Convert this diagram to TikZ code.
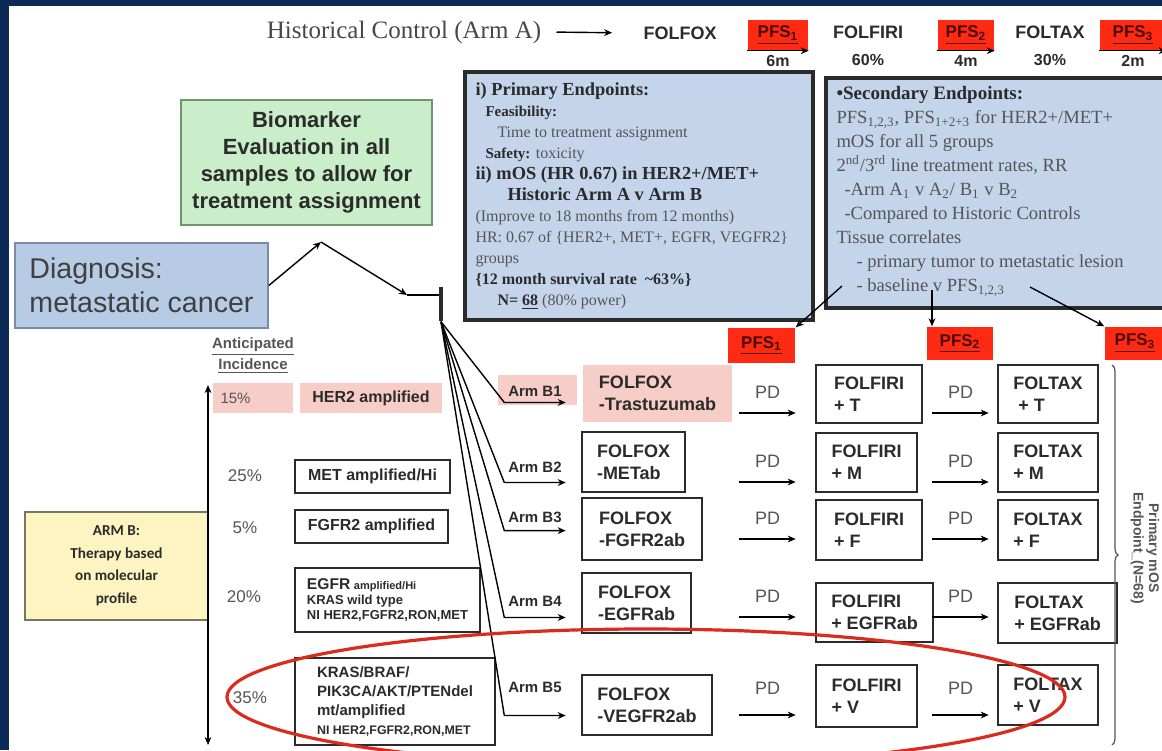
\documentclass[tikz,border=0pt]{standalone}
\usepackage{fontspec}
\setmainfont{Liberation Serif}
\setsansfont{Liberation Sans}
\newfontfamily\calibrifont{Carlito}
\usepackage{xcolor}
\usepackage{tikz}
\usetikzlibrary{positioning,arrows.meta,decorations.pathreplacing}

\newcommand{\setfs}[2]{\fontsize{#1}{#2}\selectfont}

\definecolor{navy}{HTML}{0C2A57}
\definecolor{pfsred}{HTML}{FF2A12}
\definecolor{pfstext}{HTML}{4A0A05}
\definecolor{pinkfill}{HTML}{F7CDC8}
\definecolor{endfill}{HTML}{C4D5EB}
\definecolor{diagfill}{HTML}{B8CBE4}
\definecolor{diagline}{HTML}{7A8BA3}
\definecolor{greenfill}{HTML}{C9EEC9}
\definecolor{greenline}{HTML}{6E976E}
\definecolor{yellowfill}{HTML}{FDF4C2}
\definecolor{yellowline}{HTML}{77765E}
\definecolor{ringred}{HTML}{DB2A1E}
\definecolor{ink}{HTML}{2B2B2B}
\definecolor{grayink}{HTML}{555555}

\begin{document}
\begin{tikzpicture}[
    x=0.5pt, y=-0.5pt,
    line width=0.7pt,
    >={Stealth[length=4pt,width=3.4pt]},
    cell/.style={draw=ink, line width=0.8pt, align=left, inner sep=2pt, text=ink, font=\sffamily\bfseries\setfs{9}{11}},
    marker/.style={draw=ink, line width=0.8pt, align=left, inner sep=2pt, text=ink, font=\sffamily\bfseries\setfs{8}{9.5}},
    pct/.style={font=\sffamily\setfs{8.5}{10}, text=grayink},
    pfs/.style={fill=pfsred, inner sep=0pt, text=pfstext, font=\sffamily\bfseries\setfs{8.5}{10}},
    toplbl/.style={font=\sffamily\bfseries\setfs{9}{10}, text=ink},
    sublbl/.style={font=\sffamily\bfseries\setfs{8}{9}, text=ink, inner sep=1pt},
    arm/.style={font=\sffamily\bfseries\setfs{7.5}{8}, text=ink, inner sep=1pt, minimum width=30pt},
    pd/.style={font=\sffamily\setfs{9}{10}, text=grayink, minimum width=27.5pt, inner sep=1pt, text height=6.5pt, text depth=6pt, anchor=south},
    endbox/.style={draw=ink, line width=2.2pt, fill=endfill, inner sep=0pt},
    endtext/.style={align=left, anchor=north west, inner sep=0pt, text=ink}
]

% slide frame
\clip (0,0) rectangle (1162,750);
\fill[navy] (0,0) rectangle (1162,750);
\fill[white] (9,6) rectangle (1162,750);

% historical control line
\node[font=\rmfamily\setfs{12.5}{14}, text=black!72] (hist) at (404,32) {Historical Control (Arm A)};
\node[toplbl] (hfox) at (680,33) {FOLFOX};
\node[pfs, minimum width=30pt, minimum height=15pt] (pfsa1) at (778,35) {\underline{PFS\textsubscript{1}}};
\node[toplbl] (hfiri) at (868,32) {FOLFIRI};
\node[pfs, minimum width=28pt, minimum height=15pt] (pfsa2) at (966,35) {\underline{PFS\textsubscript{2}}};
\node[toplbl] (htax) at (1050,32) {FOLTAX};
\node[pfs, minimum width=33pt, minimum height=15pt] (pfsa3) at (1133,35) {\underline{PFS\textsubscript{3}}};

\node[sublbl, below=1pt of pfsa1] (m6) {6m};
\node[sublbl, below=3pt of hfiri] (r60) {60\%};
\node[sublbl, below=1pt of pfsa2] (m4) {4m};
\node[sublbl, below=3pt of htax] (r30) {30\%};
\node[sublbl, below=1pt of pfsa3] (m2) {2m};

\draw[->, shorten <=4pt, shorten >=12pt] (hist.east) -- (hfox.west);
\draw[->, line width=0.4pt] (pfsa1.south west) -- (pfsa1.south east);
\draw[->, line width=0.4pt] (pfsa2.south west) -- (pfsa2.south east);
\draw[->, line width=0.4pt] (pfsa3.south west) -- (pfsa3.south east);

% primary endpoints
\node[endbox, minimum width=174pt, minimum height=124pt] (prim) at (639,196) {};
\node[endtext, font=\rmfamily\setfs{8}{10.5}, below right=6pt and 6pt of prim.north west] (primtxt) {%
  \textbf{\setfs{9.2}{10.5}i) Primary Endpoints:}\\
  \hspace*{5pt}\textbf{\setfs{7.5}{10.5}Feasibility:}\\
  \hspace*{11pt}{\color{grayink}Time to treatment assignment}\\
  \hspace*{5pt}\textbf{\setfs{7.5}{10.5}Safety:} {\color{grayink}toxicity}\\
  \textbf{\setfs{9.2}{10.5}ii) mOS (HR 0.67) in HER2+/MET+}\\
  \hspace*{16pt}\textbf{\setfs{9.2}{10.5}Historic Arm A v Arm B}\\
  {\color{grayink}(Improve to 18 months from 12 months)}\\
  {\color{grayink}HR: 0.67 of \{HER2+, MET+, EGFR, VEGFR2\}}\\
  {\color{grayink}groups}\\
  \textbf{\{12 month survival rate \ \textasciitilde63\%\}}\\
  \hspace*{11pt}\textbf{N= \underline{68}} {\color{grayink}(80\% power)}};

% secondary endpoints, running off the right edge
\node[endbox, minimum width=186pt, minimum height=115pt] (sec) at (1012,193) {};
\node[endtext, font=\rmfamily\setfs{9.3}{12}, text=grayink, below right=5pt and 6pt of sec.north west] (sectxt) {%
  \textbf{\color{ink}\setfs{9.5}{12}\textbullet Secondary Endpoints:}\\
  PFS\textsubscript{1,2,3}, PFS\textsubscript{1+2+3} for HER2+/MET+\\
  mOS for all 5 groups\\
  2\textsuperscript{nd}/3\textsuperscript{rd} line treatment rates, RR\\
  \hspace*{4pt}-Arm A\textsubscript{1} v A\textsubscript{2}/ B\textsubscript{1} v B\textsubscript{2}\\
  \hspace*{4pt}-Compared to Historic Controls\\
  Tissue correlates\\
  \hspace*{10pt}- primary tumor to metastatic lesion\\
  \hspace*{10pt}- baseline v PFS\textsubscript{1,2,3}};

% biomarker and diagnosis
\node[draw=greenline, fill=greenfill, line width=0.8pt, minimum width=125.5pt, minimum height=62.5pt, align=center, font=\sffamily\bfseries\setfs{11}{13.5}, text=ink] (bio) at (306.5,162.5) {Biomarker\\Evaluation in all\\samples to allow for\\treatment assignment};
\node[draw=diagline, fill=diagfill, line width=0.8pt, minimum width=126.5pt, minimum height=42.5pt, align=left, font=\sffamily\setfs{14.3}{17}, text=black!75] (diag) at (141.5,285.5) {Diagnosis:\\metastatic cancer};

\coordinate (peak) at (321,242);
\coordinate (knee) at (407,295);
\node[fill=ink, minimum width=1.6pt, minimum height=17pt, inner sep=0pt] (bar) at (441,304) {};
\draw[->] (diag.east) -- (peak);
\draw[->] (peak) -- (knee);
\draw (knee) -- (knee -| bar.west);

% anticipated incidence column
\node[font=\sffamily\bfseries\setfs{7.5}{10.5}, text=grayink, align=center] (incid) at (253,356) {\underline{Anticipated}\\\underline{Incidence}};
\node[draw=yellowline, fill=yellowfill, line width=0.6pt, minimum width=91.5pt, minimum height=54pt, align=center, font=\calibrifont\bfseries\setfs{7.6}{11.25}, text=ink] (armb) at (116.5,566) {ARM B:\\Therapy based\\on molecular\\profile};
\coordinate (inctop) at (208,385);
\coordinate (incbot) at (208,745);
\draw[<->] (inctop) -- (incbot);

\node[pct, fill=pinkfill, text width=32pt, align=left, inner xsep=4pt, minimum height=15pt, font=\sffamily\setfs{7.5}{9}] (p15) at (252.5,398) {15\%};
\node[marker, draw=none, fill=pinkfill, minimum width=71pt, minimum height=15pt] (her2) at (371,398) {HER2 amplified};
\node[pct] (p25) at (245,476) {25\%};
\node[marker, minimum width=77.5pt, minimum height=16.5pt] (met) at (372.5,476.5) {MET amplified/Hi};
\node[pct] (p5) at (245,528) {5\%};
\node[marker, minimum width=76.5pt, minimum height=16.5pt] (fgfr) at (371.5,526.5) {FGFR2 amplified};
\node[pct] (p20) at (244,597) {20\%};
\node[marker, minimum width=92.5pt, minimum height=32pt, font=\sffamily\bfseries\setfs{6.5}{7.5}] (egfr) at (387.5,600) {{\setfs{7.8}{7.5}EGFR} {\setfs{5.5}{7.5}amplified/Hi}\\KRAS wild type\\NI HER2,FGFR2,RON,MET};
\node[pct] (p35) at (250,698) {35\%};
\node[marker, minimum width=100pt, minimum height=43.5pt, font=\sffamily\bfseries\setfs{7.5}{9.5}] (kras) at (395,701.5) {KRAS/BRAF/\\PIK3CA/AKT/PTENdel\\mt/amplified\\{\setfs{6.2}{8}NI HER2,FGFR2,RON,MET}};

% arms from the assignment bar
\node[fill=pinkfill, minimum width=39.5pt, minimum height=15pt, inner sep=0pt] (armhl) at (537.5,390) {};
\node[arm] (armb1) at (535,391) {Arm B1};
\node[arm] (armb2) at (535,467) {Arm B2};
\node[arm] (armb3) at (535,517) {Arm B3};
\node[arm] (armb4) at (535,601) {Arm B4};
\node[arm] (armb5) at (535,687) {Arm B5};

\draw[->] (bar.south) -- ([yshift=-1.8pt]armb1.south west) -- ([yshift=-1.8pt]armb1.south east);
\draw[->] (bar.south) -- ([yshift=-3.8pt]armb2.south west) -- ([yshift=-3.8pt]armb2.south east);
\draw[->] (bar.south) -- ([yshift=-2.8pt]armb3.south west) -- ([yshift=-2.8pt]armb3.south east);
\draw[->] (bar.south) -- ([yshift=-4.3pt]armb4.south west) -- ([yshift=-4.3pt]armb4.south east);
\draw[->] (bar.south) -- ([yshift=-10.3pt]armb5.south west) -- ([yshift=-10.3pt]armb5.south east);

% first line
\node[cell, draw=none, fill=pinkfill, minimum width=74.5pt, minimum height=28.5pt] (fox1) at (657.5,393.5) {FOLFOX\\-Trastuzumab};
\node[cell, minimum width=51.5pt, minimum height=30pt] (fox2) at (633.5,462) {FOLFOX\\-METab};
\node[cell, minimum width=60pt, minimum height=31pt] (fox3) at (642,529) {FOLFOX\\-FGFR2ab};
\node[cell, minimum width=54.5pt, minimum height=30pt] (fox4) at (636.5,603) {FOLFOX\\-EGFRab};
\node[cell, minimum width=65pt, minimum height=30pt] (fox5) at (647,705) {FOLFOX\\-VEGFR2ab};

% second line
\node[cell, minimum width=53pt, minimum height=29pt] (firi1) at (869,394) {FOLFIRI\\+ T};
\node[cell, minimum width=50.5pt, minimum height=29.5pt] (firi2) at (866.5,462.5) {FOLFIRI\\+ M};
\node[cell, minimum width=53pt, minimum height=30pt] (firi3) at (869,530) {FOLFIRI\\+ F};
\node[cell, minimum width=58.5pt, minimum height=29.5pt] (firi4) at (874.5,612.5) {FOLFIRI\\+ EGFRab};
\node[cell, minimum width=50.5pt, minimum height=31pt] (firi5) at (866.5,696) {FOLFIRI\\+ V};

% third line
\node[cell, minimum width=50pt, minimum height=29pt] (tax1) at (1048,394) {FOLTAX\\\hspace*{2.5pt}+ T};
\node[cell, minimum width=50pt, minimum height=29.5pt] (tax2) at (1048,462.5) {FOLTAX\\+ M};
\node[cell, minimum width=50pt, minimum height=30pt] (tax3) at (1048,530) {FOLTAX\\+ F};
\node[cell, minimum width=59.5pt, minimum height=30pt] (tax4) at (1057.5,613) {FOLTAX\\+ EGFRab};
\node[cell, minimum width=50pt, minimum height=30pt] (tax5) at (1048,695) {FOLTAX\\+ V};

% progression arrows
\node[pd] (pd1a) at (767.5,413) {PD};
\node[pd] (pd1b) at (960.5,413) {PD};
\node[pd] (pd2a) at (767.5,482) {PD};
\node[pd] (pd2b) at (960.5,482) {PD};
\node[pd] (pd3a) at (767.5,539) {PD};
\node[pd] (pd3b) at (960.5,539) {PD};
\node[pd] (pd4a) at (767.5,617) {PD};
\node[pd] (pd4b) at (960.5,617) {PD};
\node[pd, text depth=9pt] (pd5a) at (767.5,715) {PD};
\node[pd, text depth=9pt] (pd5b) at (960.5,715) {PD};

\draw[->] (pd1a.south west) -- (pd1a.south east);
\draw[->] (pd1b.south west) -- (pd1b.south east);
\draw[->] (pd2a.south west) -- (pd2a.south east);
\draw[->] (pd2b.south west) -- (pd2b.south east);
\draw[->] (pd3a.south west) -- (pd3a.south east);
\draw[->] (pd3b.south west) -- (pd3b.south east);
\draw[->] (pd4a.south west) -- (pd4a.south east);
\draw[->] (pd4b.south west) -- (pd4b.south east);
\draw[->] (pd5a.south west) -- (pd5a.south east);
\draw[->] (pd5b.south west) -- (pd5b.south east);

% PFS markers pointed at from the secondary endpoints
\node[pfs, minimum width=33.5pt, minimum height=17.5pt] (pfsb1) at (761.5,345.5) {\underline{PFS\textsubscript{1}}};
\node[pfs, minimum width=33pt, minimum height=16.5pt] (pfsb2) at (960,343.5) {\underline{PFS\textsubscript{2}}};
\node[pfs, minimum width=30pt, minimum height=16.5pt] (pfsb3) at (1135,343.5) {\underline{PFS\textsubscript{3}}};
\coordinate (s1) at (842,286);
\coordinate (s2) at (932,290);
\coordinate (s3) at (1030,287);
\draw[->] (s1) -- (pfsb1.north east);
\draw[->] (s2) -- (s2 |- pfsb2.north);
\draw[->] (s3) -- (pfsb3.north west);

% bracket with the primary endpoint note
\coordinate (brtop) at (1112,365);
\coordinate (brbot) at (1112,745);
\draw[decorate, decoration={brace, amplitude=3pt}, line width=0.6pt, draw=grayink] (brtop) -- (brbot);
\node[font=\sffamily\bfseries\setfs{7}{7.8}, text=grayink, rotate=-90, align=center, inner sep=1pt] (endpt) at (1145,548) {Primary mOS\\Endpoint\_(N=68)};

% ring round the fifth arm
\draw[ringred, line width=1.6pt] (646,697) ellipse [x radius=209.5pt, y radius=34pt];

\end{tikzpicture}
\end{document}
